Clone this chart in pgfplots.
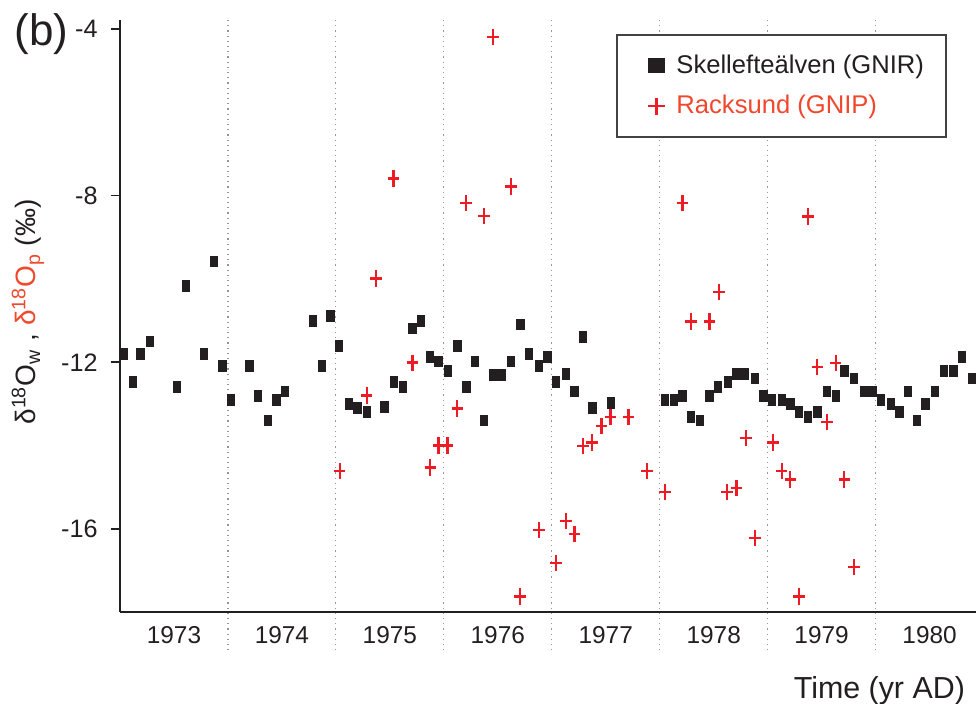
\documentclass[border=0pt]{standalone}
\usepackage{pgfplots}
\pgfplotsset{compat=1.18}
\usepackage{fontspec}
\setmainfont{Liberation Sans}
\definecolor{ink}{RGB}{35,31,32}
\definecolor{crossred}{RGB}{237,28,36}
\definecolor{labred}{RGB}{240,72,45}
\definecolor{gridgray}{RGB}{150,150,150}
\begin{document}
\begin{tikzpicture}
\begin{axis}[
  scale only axis,
  width=428pt, height=296pt,
  xmin=1973, xmax=1980.93,
  ymin=-18, ymax=-3.78,
  clip=false,
  axis x line*=bottom, axis y line*=left,
  axis line style={ink, line width=0.8pt},
  tick align=outside,
  major tick length=4.65pt,
  ytick={-16,-12,-8,-4},
  yticklabels={-16,-12,-8,-4},
  ytick style={ink, line width=0.8pt},
  yticklabel style={font=\fontsize{12.6}{14}\selectfont, text=ink, xshift=-3pt},
  xtick={1973.5,1974.5,1975.5,1976.5,1977.5,1978.5,1979.5,1980.5},
  xticklabels={1973,1974,1975,1976,1977,1978,1979,1980},
  xtick style={draw=none},
  xticklabel style={font=\fontsize{12.2}{14}\selectfont, text=ink, yshift=1pt},
  xlabel={Time (yr AD)},
  xlabel style={at={(rel axis cs:1,0)}, anchor=north east, xshift=-2pt, yshift=-28.5pt, font=\fontsize{15.2}{17}\selectfont, text=ink},
  ylabel={\textcolor{ink}{δ\textsuperscript{18}O\textsubscript{w} ,} \textcolor{labred}{δ\textsuperscript{18}O\textsubscript{p}} \textcolor{ink}{(‰)}},
  ylabel style={at={(rel axis cs:0,0.5)}, anchor=center, yshift=46pt, xshift=2pt, font=\fontsize{14}{16}\selectfont},
  legend style={at={(rel axis cs:1,1)}, anchor=north east, xshift=-14.6pt, yshift=-7pt,
    draw=ink!85, line width=0.8pt, font=\fontsize{12.8}{15}\selectfont,
    inner xsep=9pt, inner ysep=8pt, row sep=5.5pt},
  legend cell align=left,
]
\pgfplotsinvokeforeach{1974,1975,1976,1977,1978,1979,1980}{
  \draw[gridgray, dotted, line width=0.6pt] (axis cs:#1,-3.78) -- ([yshift=-20.5pt]axis cs:#1,-18);
}
\addlegendimage{legend image code/.code={\path (-10.5pt,0) (7.5pt,0); \fill[ink] (-3.7pt,-3.5pt) rectangle (3.7pt,3.5pt);}}
\addlegendentry{\textcolor{ink}{Skellefteälven (GNIR)}}
\addlegendimage{legend image code/.code={\path (-10.5pt,0) (7.5pt,0); \draw[crossred, line width=1.25pt] (-4.25pt,0) -- (4.25pt,0) (0,-4.25pt) -- (0,4.25pt);}}
\addlegendentry{\textcolor{labred}{Racksund (GNIP)}}
\addplot[forget plot, only marks, mark=square*, ink, mark size=2.7pt, mark options={xscale=0.68}] table {
1973.035 -11.80
1973.12 -12.47
1973.19 -11.80
1973.28 -11.50
1973.53 -12.59
1973.61 -10.17
1973.78 -11.80
1973.87 -9.58
1973.95 -12.09
1974.03 -12.91
1974.20 -12.09
1974.28 -12.80
1974.37 -13.40
1974.45 -12.91
1974.53 -12.70
1974.79 -11.01
1974.87 -12.09
1974.95 -10.89
1975.03 -11.60
1975.12 -13.00
1975.20 -13.09
1975.29 -13.19
1975.45 -13.08
1975.54 -12.47
1975.62 -12.60
1975.71 -11.19
1975.79 -11.01
1975.87 -11.88
1975.95 -11.98
1976.04 -12.21
1976.125 -11.60
1976.21 -12.60
1976.29 -11.98
1976.37 -13.40
1976.46 -12.30
1976.54 -12.30
1976.62 -11.98
1976.71 -11.09
1976.79 -11.80
1976.88 -12.09
1976.96 -11.88
1977.04 -12.47
1977.13 -12.29
1977.21 -12.70
1977.29 -11.39
1977.375 -13.09
1977.55 -12.98
1978.05 -12.91
1978.13 -12.91
1978.21 -12.80
1978.29 -13.31
1978.37 -13.40
1978.46 -12.80
1978.54 -12.59
1978.63 -12.47
1978.71 -12.29
1978.79 -12.29
1978.88 -12.39
1978.96 -12.80
1979.04 -12.90
1979.13 -12.90
1979.21 -13.00
1979.29 -13.19
1979.375 -13.31
1979.46 -13.19
1979.55 -12.70
1979.63 -12.80
1979.71 -12.21
1979.80 -12.39
1979.89 -12.70
1979.97 -12.70
1980.05 -12.90
1980.14 -13.00
1980.22 -13.19
1980.30 -12.70
1980.38 -13.40
1980.46 -13.00
1980.55 -12.70
1980.63 -12.21
1980.72 -12.21
1980.80 -11.88
1980.89 -12.39
};
\addplot[forget plot, only marks, mark=+, crossred, mark size=2.9pt, mark options={line width=1.15pt, yscale=1.4}] table {
1975.035 -14.62
1975.285 -12.80
1975.37 -9.99
1975.535 -7.59
1975.71 -12.01
1975.875 -14.53
1975.95 -14.00
1976.035 -14.00
1976.125 -13.11
1976.205 -8.18
1976.37 -8.49
1976.455 -4.18
1976.62 -7.78
1976.705 -17.63
1976.88 -16.03
1977.04 -16.83
1977.13 -15.81
1977.21 -16.12
1977.29 -14.02
1977.375 -13.93
1977.46 -13.54
1977.545 -13.32
1977.71 -13.32
1977.88 -14.62
1978.05 -15.12
1978.21 -8.18
1978.29 -11.02
1978.46 -11.02
1978.55 -10.31
1978.625 -15.12
1978.71 -15.02
1978.80 -13.82
1978.88 -16.22
1979.05 -13.93
1979.13 -14.62
1979.21 -14.82
1979.29 -17.63
1979.375 -8.50
1979.46 -12.11
1979.55 -13.44
1979.63 -12.02
1979.71 -14.82
1979.80 -16.92
};
\node[anchor=east, font=\fontsize{22}{25}\selectfont, text=ink, inner sep=0pt] at ([xshift=-25.5pt, yshift=-7pt]rel axis cs:0,1) {(b)};
\end{axis}
\pgfresetboundingbox
\path[use as bounding box] (-60pt,-45.5pt) rectangle (428pt,306pt);
\end{tikzpicture}
\end{document}
